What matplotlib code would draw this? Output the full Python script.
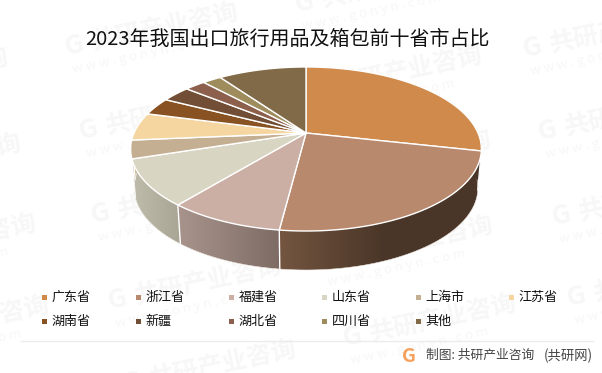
import numpy as np
import matplotlib
matplotlib.use("Agg")
import matplotlib.pyplot as plt
from matplotlib.colors import to_rgb
from matplotlib.patches import Polygon, Rectangle

plt.rcParams['font.family'] = ['Noto Sans CJK SC', 'DejaVu Sans']

# data
categories = ['广东省', '浙江省', '福建省', '山东省', '上海市', '江苏省',
              '湖南省', '新疆', '湖北省', '四川省', '其他']
shares = [28.5, 23.5, 8.9, 9.1, 3.6, 5.5, 3.5, 3.2, 2.3, 2.1, 9.8]
colors = ['#CF8A4C', '#B8896D', '#CBAFA4', '#D9D5C3', '#C4AF93', '#F5D6A0',
          '#885222', '#714E35', '#8C604C', '#9F8C5C', '#816A47']
side_left = ['#9A6A3A', '#745640', '#A8948C', '#BFBCAB', '#A89880', '#C8B088',
             '#6A4018', '#583C28', '#6C4A3A', '#7C6C48', '#645238']
side_right = ['#9A6A3A', '#4A3628', '#7E6C64', '#A8A594', '#A89880', '#C8B088',
              '#6A4018', '#583C28', '#6C4A3A', '#7C6C48', '#645238']
title = '2023年我国出口旅行用品及箱包前十省市占比'
source_main = '制图: 共研产业咨询'
source_paren = '(共研网)'

W, H = 602, 373
fig = plt.figure(figsize=(W / 100, H / 100), dpi=100)
ax = fig.add_axes([0, 0, 1, 1])
ax.axis('off')

# watermarks
wm_starts = [(-163, 100), (-150, 186), (-135, 266), (-122, 348),
             (67, 55), (81, 139), (93, 223), (110, 309), (125, 392),
             (297, 12), (311, 98), (320, 182), (322, 268), (345, 346),
             (525, 57), (540, 140), (554, 225), (569, 306)]
rot = 12
ca, sa = np.cos(np.radians(rot)), np.sin(np.radians(rot))
WM = '#F7F7F7'
for sx, sy in wm_starts:
    ax.text(sx, sy, 'G', fontsize=19, fontweight='bold', color=WM, rotation=rot,
            rotation_mode='anchor', ha='left', va='baseline', zorder=0, clip_on=True)
    ax.text(sx + 27 * ca, sy - 27 * sa, '共研产业咨询', fontsize=18, fontweight='bold', color=WM,
            rotation=rot, rotation_mode='anchor', ha='left', va='baseline', zorder=0, clip_on=True)
    ax.text(sx + 3 + 18 * sa, sy + 18 * ca, 'w w w . g o n y n . c o m', fontsize=9.5, color=WM,
            rotation=rot, rotation_mode='anchor', ha='left', va='baseline', zorder=0, clip_on=True)

# pie geometry (perspective-projected disc)
cx, cy = 306.0, 133.0
k, A, B = 0.195, 78.9, 172.0
depth, shrink = 39.0, 0.98


def project(theta):
    u, v = np.sin(theta), -np.cos(theta)
    d = 1 - k * v
    return cx + B * u / d, cy + A * v / d


edges = np.radians(np.concatenate([[0], np.cumsum(shares)]) * 3.6)

# side wall: horizontal gradient clipped to each wall piece
for i in range(len(shares)):
    t = np.linspace(edges[i], edges[i + 1], 160)
    keep = (t > np.radians(95)) & (t < np.radians(272))
    if keep.sum() < 2:
        continue
    x, y = project(t[keep])
    xb, yb = cx + (x - cx) * shrink, y + depth
    lo, hi = min(x.min(), xb.min()), max(x.max(), xb.max())
    c0, c1 = np.array(to_rgb(side_left[i])), np.array(to_rgb(side_right[i]))
    reach = 103.0 if i == 1 else (hi - lo)
    xs = np.linspace(lo, hi, 256)
    f = np.clip((xs - lo) / reach, 0, 1)[:, None]
    grad = (c0 + (c1 - c0) * f)[None, :, :]
    poly = Polygon(np.column_stack([np.r_[x, xb[::-1]], np.r_[y, yb[::-1]]]), closed=True,
                   transform=ax.transData, facecolor='none', edgecolor='none')
    ax.add_patch(poly)
    im = ax.imshow(grad, extent=(lo, hi, y.max() + depth + 2, y.min() - 2), aspect='auto',
                   interpolation='bilinear', zorder=2)
    im.set_clip_path(poly)
    ax.plot([x[-1], xb[-1]], [y[-1], yb[-1]], color='white', lw=1.0, zorder=3)
    ax.plot(xb, yb, color='#EFEAE4', lw=0.4, zorder=3)

# top surface
for i in range(len(shares)):
    t = np.linspace(edges[i], edges[i + 1], 120)
    x, y = project(t)
    pts = np.column_stack([np.r_[cx, x], np.r_[cy, y]])
    ax.add_patch(Polygon(pts, closed=True, facecolor=colors[i], edgecolor='white',
                         linewidth=1.0, joinstyle='round', zorder=4))

# title
ax.text(287, 39, title, fontsize=14.4, color='#111111', ha='center', va='center', zorder=6)

# legend
col_x = [42, 136, 229, 322, 416, 509]
row_y = [297, 321]
for i, name in enumerate(categories):
    lx, ly = col_x[i % 6], row_y[i // 6]
    ax.add_patch(Rectangle((lx, ly - 2.5), 5, 5, facecolor=colors[i], edgecolor='none', zorder=5))
    ax.text(lx + 9.5, ly, name, fontsize=9.4, color='#111111', ha='left', va='center', zorder=6)

# footer
ax.plot([21, 593], [341, 341], color='#ECECEC', lw=1, zorder=1)
ax.text(402, 356, 'G', fontsize=14, fontweight='bold', color='#F6A25E', ha='left', va='center', zorder=6)
ax.text(426, 355.5, source_main, fontsize=9.2, color='#444444', ha='left', va='center', zorder=6)
ax.text(593, 355.5, source_paren, fontsize=9.6, color='#444444', ha='right', va='center', zorder=6)

ax.set_xlim(0, W)
ax.set_ylim(H, 0)
fig.savefig('out.png', dpi=100, facecolor='white')
